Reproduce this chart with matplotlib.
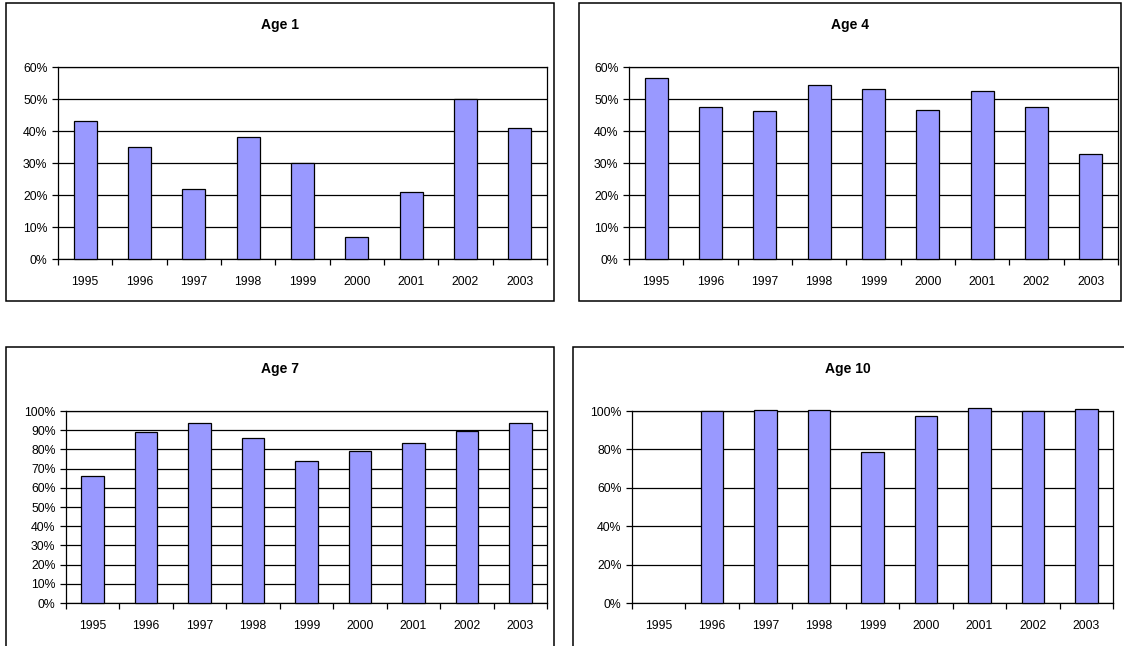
import numpy as np
import matplotlib
matplotlib.use("Agg")
import matplotlib.pyplot as plt
from matplotlib.patches import Rectangle
from matplotlib.ticker import FuncFormatter, FixedLocator

plt.rcParams['font.family'] = ['Liberation Sans', 'DejaVu Sans']

years = ['1995', '1996', '1997', '1998', '1999', '2000', '2001', '2002', '2003']

age1 = [43, 35, 22, 38, 30, 7, 21, 50, 41]
age4 = [56.7, 47.5, 46.3, 54.5, 53.2, 46.7, 52.5, 47.5, 32.9]
age7 = [66, 89, 94, 86, 74, 79, 83.5, 89.6, 93.8]
age10 = [np.nan, 100, 100.6, 100.6, 78.5, 97.3, 101.8, 100, 101.3]

titles = ['Age 1', 'Age 4', 'Age 7', 'Age 10']
series = [age1, age4, age7, age10]
y_max = [60, 60, 100, 100]
y_step = [10, 10, 10, 20]

W, H = 1124, 646
fig = plt.figure(figsize=(W / 100, H / 100), dpi=100)
fig.patch.set_facecolor('white')

# pixel boxes (left, top, right, bottom) for the outer frame and the plot area
frames = [(6, 3, 554, 301), (579, 3, 1121, 301),
          (6, 347, 554, 660), (573, 347, 1134, 660)]
plots = [(58, 67, 547, 259), (629, 67, 1118, 259),
         (66, 411, 547, 603), (632, 411, 1113, 603)]
title_x = [280, 850, 280, 848]


def fx(px):
    return px / W


def fy(py):
    return 1 - py / H


for fr in frames:
    l, t, r, b = fr
    fig.patches.append(Rectangle((fx(l), fy(b)), fx(r) - fx(l), fy(t) - fy(b),
                                 transform=fig.transFigure, fill=False,
                                 edgecolor='black', linewidth=1.1, zorder=0))

pct = FuncFormatter(lambda v, _: f"{int(round(v))}%")
x = np.arange(len(years))

for i in range(4):
    l, t, r, b = plots[i]
    ax = fig.add_axes([fx(l), fy(b), fx(r) - fx(l), fy(t) - fy(b)])
    ax.set_xlim(-0.5, len(years) - 0.5)
    ax.set_ylim(0, y_max[i])
    ax.yaxis.set_major_locator(FixedLocator(np.arange(0, y_max[i] + 0.1, y_step[i])))
    ax.yaxis.set_major_formatter(pct)
    ax.grid(axis='y', color='black', linewidth=0.9)
    ax.set_axisbelow(True)

    ax.bar(x, series[i], width=0.42, color='#9999FF', edgecolor='black',
           linewidth=0.9, zorder=3, clip_on=False)

    # category labels centred under bars, tick marks on category boundaries
    ax.set_xticks(x)
    ax.set_xticklabels(years)
    ax.tick_params(axis='x', which='major', length=0, pad=12, labelsize=8.8)
    ax.set_xticks(np.arange(-0.5, len(years)), minor=True)
    ax.tick_params(axis='x', which='minor', direction='out', length=4, width=0.9)
    ax.tick_params(axis='y', direction='out', length=4, width=0.9, labelsize=8.8, pad=3.5)

    for s in ax.spines.values():
        s.set_linewidth(0.9)
        s.set_color('black')

    fig.text(fx(title_x[i]), fy(frames[i][1] + 22), titles[i], ha='center',
             va='center', fontsize=10, fontweight='bold')

fig.savefig('out.png', dpi=100, facecolor='white')
